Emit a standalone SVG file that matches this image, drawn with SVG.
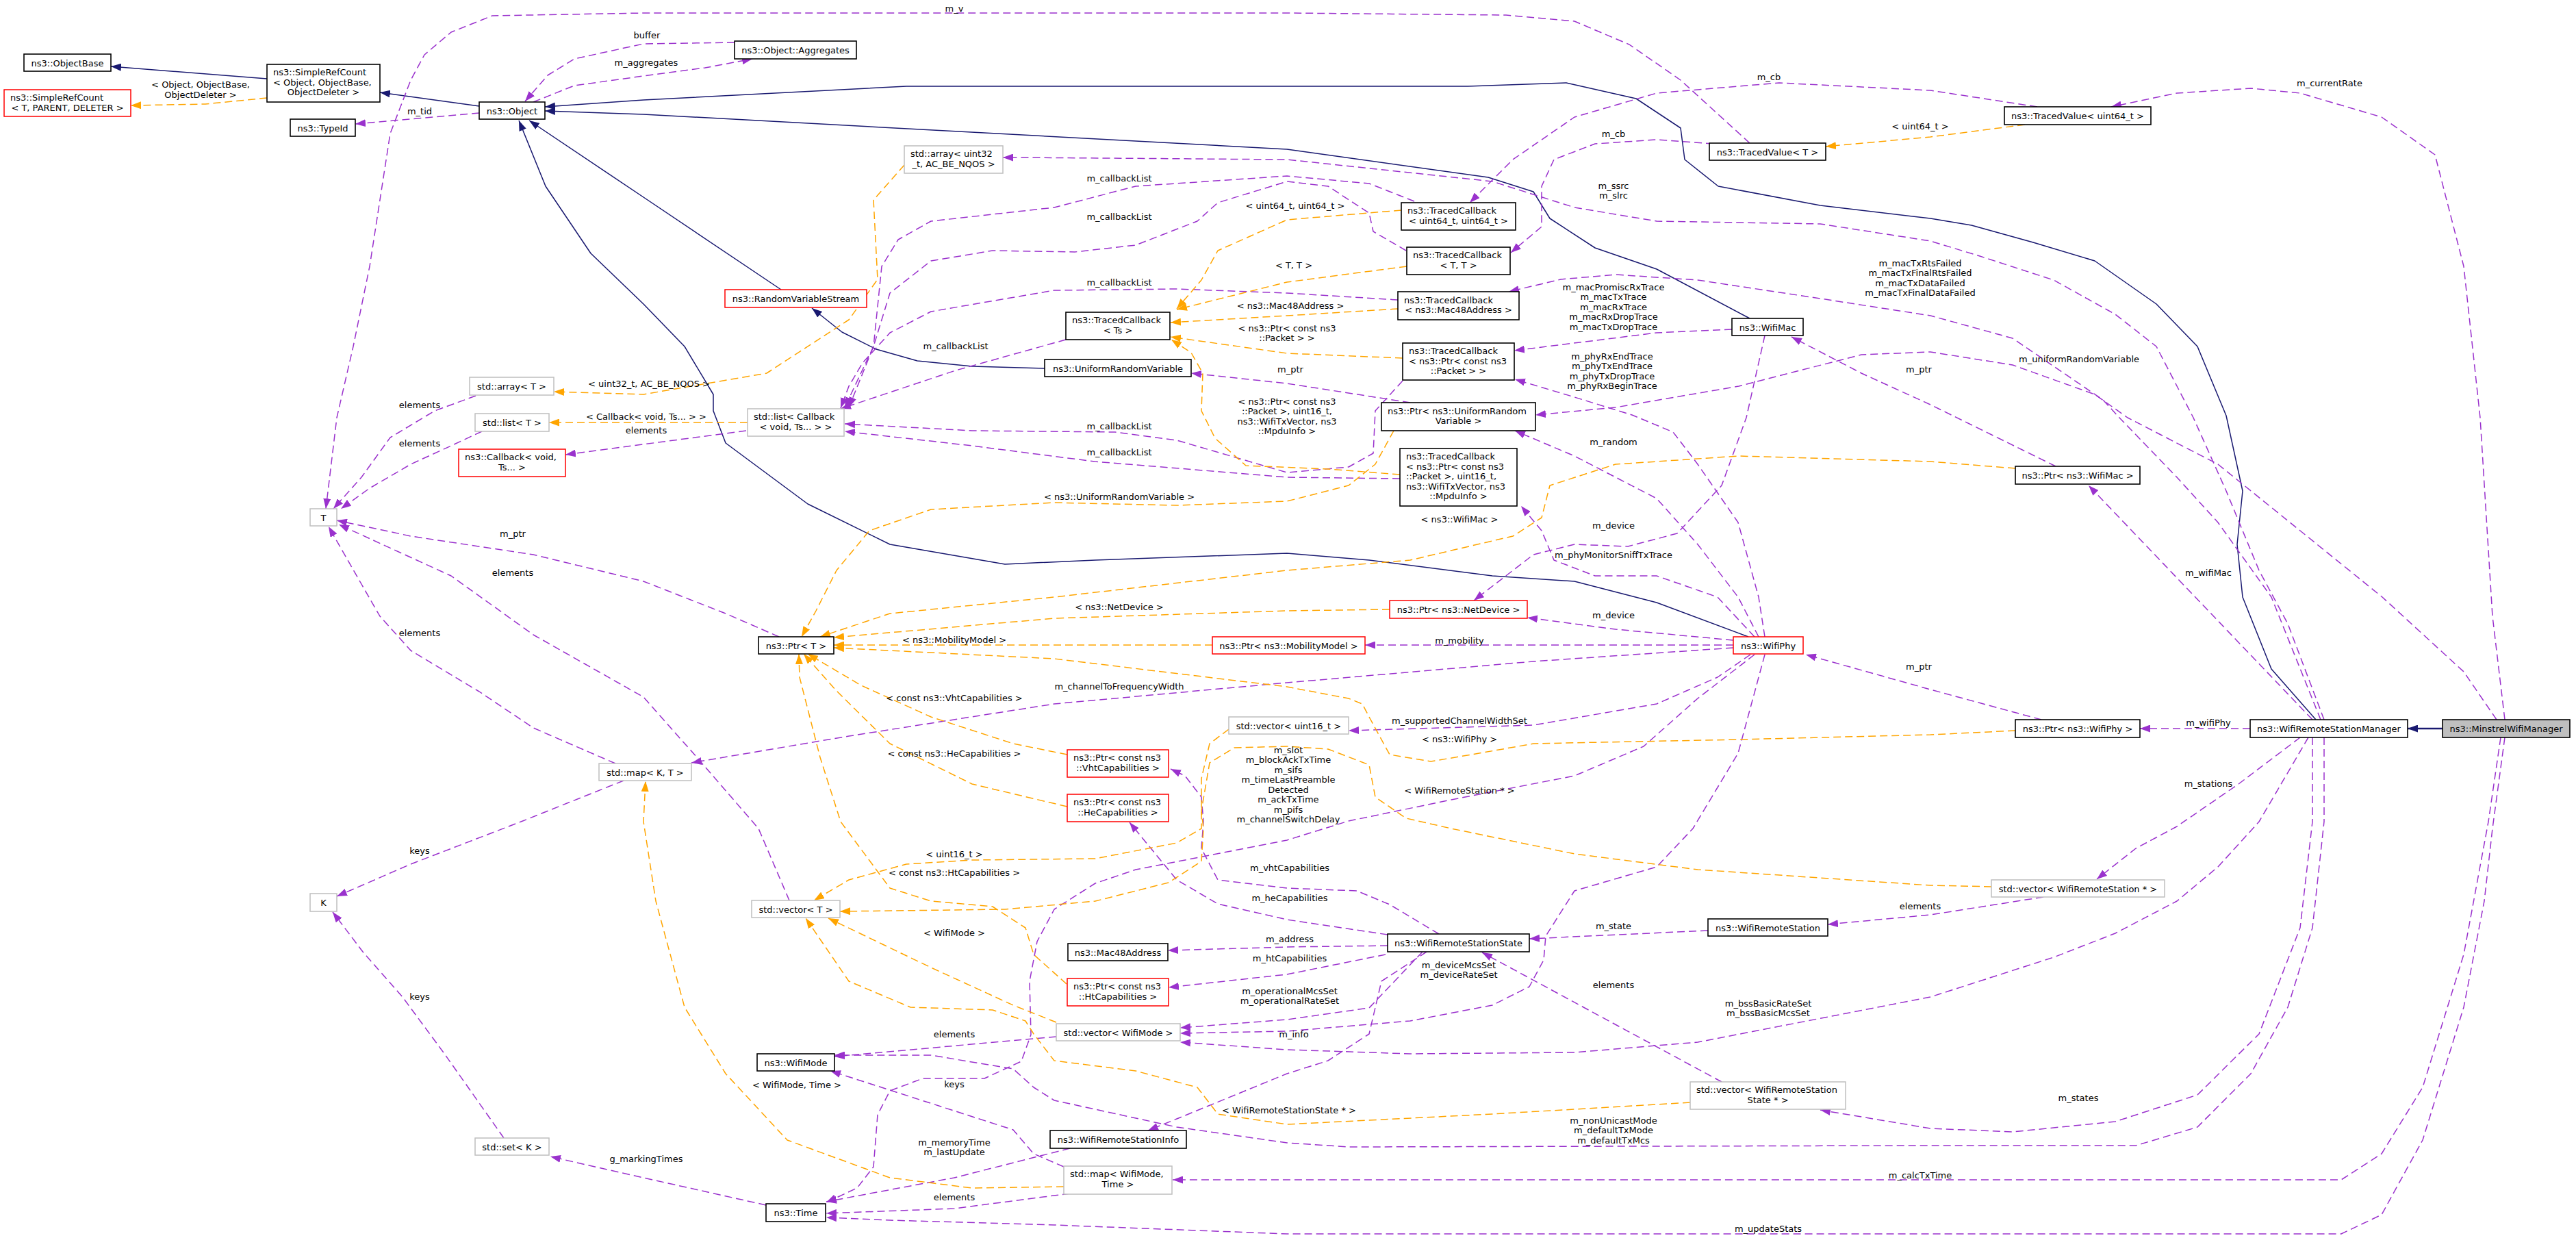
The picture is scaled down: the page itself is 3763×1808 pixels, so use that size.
<svg xmlns="http://www.w3.org/2000/svg" width="3763" height="1808" viewBox="0 0 3763 1808">
<style>
text{font-family:"DejaVu Sans","Liberation Sans",sans-serif;font-size:13px;fill:#000}
.c{text-anchor:middle}
.l{text-anchor:start}
.nb rect{fill:#fff;stroke:#000;stroke-width:1.6}
.ng rect{fill:#fff;stroke:#bfbfbf;stroke-width:1.5}
.nr rect{fill:#fff;stroke:#ff0000;stroke-width:1.5}
.nf rect{fill:#bfbfbf;stroke:#000;stroke-width:1.6}
.u{fill:none;stroke:#9a32cd;stroke-width:1.5;stroke-dasharray:11,6;stroke-linejoin:round;marker-end:url(#ap)}
.t{fill:none;stroke:#ffa500;stroke-width:1.5;stroke-dasharray:11,6;stroke-linejoin:round;marker-end:url(#ao)}
.i{fill:none;stroke:#191970;stroke-width:1.5;stroke-linejoin:round;marker-end:url(#an)}
</style>
<defs>
<marker id="ap" viewBox="0 0 15 11" refX="15" refY="5.5" markerWidth="15" markerHeight="11" markerUnits="userSpaceOnUse" orient="auto"><path d="M0,0L15,5.5L0,11z" fill="#9a32cd"/></marker>
<marker id="ao" viewBox="0 0 15 11" refX="15" refY="5.5" markerWidth="15" markerHeight="11" markerUnits="userSpaceOnUse" orient="auto"><path d="M0,0L15,5.5L0,11z" fill="#ffa500"/></marker>
<marker id="an" viewBox="0 0 15 11" refX="15" refY="5.5" markerWidth="15" markerHeight="11" markerUnits="userSpaceOnUse" orient="auto"><path d="M0,0L15,5.5L0,11z" fill="#191970"/></marker>
</defs>
<rect width="3763" height="1808" fill="#fff"/>
<g id="connectors">
<path class="i" d="M390,115L162,97"/>
<path class="i" d="M700,155L555,135"/>
<path class="i" d="M1141,423L940,288L773,176"/>
<path class="i" d="M1526,538L1420,535L1340,527L1280,510L1230,485L1186,450"/>
<path class="i" d="M2556,465L2420,393L2330,362L2264,319L2240,280L2174,259L1880,218L940,167L796,162"/>
<path class="i" d="M3383,1051L3318,977L3276,872L3268,795L3276,717L3252,607L3210,506L3150,444L3060,381L2970,354L2880,329L2820,319L2659,300L2510,272L2461,233L2455,187L2390,144L2288,121L2144,126L1324,126L940,146L796,156"/>
<path class="i" d="M2554,930L2420,880L2300,849L2180,841L2000,818L1880,808L1600,818L1468,824L1300,795L1180,736L1060,647L1042,600L1042,576L1000,506L940,444L863,370L797,272L758,176"/>
<path class="i" style="stroke-width:2.5" d="M3568,1064L3517,1064"/>
<path class="u" d="M2556,209L2455,117L2380,65L2300,31L2200,22L1880,19L940,19L719,23L659,47L620,80L600,117L570,195L540,389L516,506L492,610L476,743"/>
<path class="u" d="M1073,62L940,64L839,86L800,110L767,148"/>
<path class="u" d="M779,149L839,125L940,111L1030,99L1099,86"/>
<path class="u" d="M700,165L519,181"/>
<path class="u" d="M695,578L635,600L570,639L528,697L487,743"/>
<path class="u" d="M704,630L659,651L600,678L540,713L498,743"/>
<path class="u" d="M1138,930L1060,896L940,849L779,810L600,783L492,760"/>
<path class="u" d="M1153,1315L1108,1210L1018,1106L940,1018L779,927L659,841L495,766"/>
<path class="u" d="M899,1115L779,1063L700,1010L600,950L555,900L528,853L480,769"/>
<path class="u" d="M911,1140L761,1200L600,1262L492,1309"/>
<path class="u" d="M736,1662L650,1540L588,1456L530,1390L486,1332"/>
<path class="u" d="M1119,1760L940,1720L869,1704L804,1689"/>
<path class="u" d="M2066,294L2000,268L1880,257L1659,272L1540,303L1360,323L1312,350L1288,389L1276,506L1234,595"/>
<path class="u" d="M2054,366L2006,338L2000,311L1940,272L1880,265L1779,296L1749,323L1659,358L1570,368L1450,366L1360,381L1300,428L1276,506L1240,595"/>
<path class="u" d="M2042,438L1880,428L1719,422L1540,424L1360,455L1300,486L1260,530L1240,564L1228,596"/>
<path class="u" d="M1557,496L1396,541L1228,597"/>
<path class="u" d="M2049,556L2009,600L2006,662L1970,682L1880,690L1719,643L1629,631L1420,629L1234,619"/>
<path class="u" d="M2045,699L1880,697L1599,674L1420,651L1234,630"/>
<path class="u" d="M3395,1051L3342,911L3300,833L3252,717L3204,610L3150,506L3090,459L3000,409L2892,374L2820,352L2659,327L2420,323L2300,303L2180,265L1880,233L1480,230L1465,230"/>
<path class="u" d="M3390,1051L3318,872L3240,763L3180,697L3096,610L3072,584L2940,494L2820,461L2659,436L2480,409L2360,401L2280,408L2204,426"/>
<path class="u" d="M3647,1051L3599,981L3480,872L3360,775L3240,678L3108,610L3060,576L2940,533L2820,514L2719,518L2540,564L2360,595L2243,606"/>
<path class="u" d="M3659,1051L3641,900L3623,610L3599,389L3557,226L3479,171L3360,136L3288,129L3180,136L3084,156"/>
<path class="u" d="M2976,156L2820,132L2599,121L2420,136L2300,171L2210,233L2147,296"/>
<path class="u" d="M2503,210L2420,204L2330,210L2270,233L2252,272L2252,331L2207,369"/>
<path class="u" d="M2530,481L2420,486L2212,512"/>
<path class="u" d="M2578,490L2551,610L2515,709L2450,779L2378,798L2300,795L2240,810L2153,877"/>
<path class="u" d="M3003,681L2820,591L2719,545L2617,492"/>
<path class="u" d="M3378,1051L3051,709"/>
<path class="u" d="M3287,1064L3126,1064"/>
<path class="u" d="M2982,1051L2820,1007L2638,956"/>
<path class="u" d="M3360,1077L3270,1145L3180,1207L3120,1239L3063,1284"/>
<path class="u" d="M3378,1077L3378,1200L3360,1355L3300,1510L3210,1599L3090,1638L2940,1653L2820,1648L2659,1621"/>
<path class="u" d="M3395,1077L3395,1200L3378,1355L3342,1471L3288,1568L3210,1646L3120,1673L2820,1673L1970,1675L1880,1669L1719,1646L1540,1607L1510,1588L1480,1561L1360,1541L1219,1541"/>
<path class="u" d="M3372,1077L3300,1200L3240,1266L3180,1316L3090,1363L3000,1398L2820,1456L2480,1522L2300,1537L2060,1539L1880,1533L1724,1522"/>
<path class="u" d="M3653,1077L3635,1200L3599,1394L3539,1588L3479,1685L3420,1723L2820,1723L1713,1723"/>
<path class="u" d="M3659,1077L3641,1210L3629,1316L3599,1471L3539,1665L3479,1774L3420,1802L1880,1802L1540,1789L1300,1782L1207,1778"/>
<path class="u" d="M2578,956L2539,1100L2473,1210L2420,1266L2300,1301L2258,1367L2255,1402L2234,1441L2180,1468L2060,1491L1880,1506L1724,1509"/>
<path class="u" d="M2563,956L2480,1020L2401,1090L2300,1133L2120,1168L1970,1199L1880,1227L1659,1270L1600,1290L1540,1328L1515,1375L1504,1433L1506,1511L1492,1550L1438,1575L1348,1575L1300,1593L1282,1628L1276,1704L1252,1735L1207,1756"/>
<path class="u" d="M2557,956L2509,989L2420,1028L2240,1059L1970,1067"/>
<path class="u" d="M2563,930L2509,872L2420,841L2330,841L2270,818L2252,775L2222,739"/>
<path class="u" d="M2569,930L2539,872L2480,795L2420,728L2300,666L2213,629"/>
<path class="u" d="M2578,930L2569,872L2539,763L2480,678L2444,631L2384,606L2300,580L2213,554"/>
<path class="u" d="M2532,935L2360,919L2231,902"/>
<path class="u" d="M2532,942L1994,942"/>
<path class="u" d="M2532,946L2240,966L1880,997L1540,1028L1240,1075L1010,1114"/>
<path class="u" d="M2060,588L1880,560L1740,545"/>
<path class="u" d="M2027,1381L1880,1383L1706,1388"/>
<path class="u" d="M2024,1394L1880,1423L1707,1442"/>
<path class="u" d="M2102,1364L2030,1321L1982,1301L1880,1297L1779,1285L1755,1239L1758,1200L1755,1164L1731,1133L1710,1123"/>
<path class="u" d="M2027,1365L1880,1343L1779,1320L1719,1285L1650,1201"/>
<path class="u" d="M2078,1390L2000,1472L1880,1489L1724,1501"/>
<path class="u" d="M2084,1390L2018,1433L2000,1510L1940,1549L1880,1568L1719,1634L1677,1651"/>
<path class="u" d="M2495,1359L2234,1371"/>
<path class="u" d="M2515,1580L2165,1391"/>
<path class="u" d="M2985,1310L2820,1336L2670,1350"/>
<path class="u" d="M1543,1514L1219,1543"/>
<path class="u" d="M1554,1704L1510,1685L1480,1650L1300,1592L1213,1564"/>
<path class="u" d="M1563,1743L1394,1765L1207,1772"/>
<path class="u" d="M1563,1677L1394,1720L1207,1755"/>
<path class="u" d="M1090,629L826,664"/>
<path class="t" d="M390,143L300,152L191,154"/>
<path class="t" d="M1321,241L1276,292L1282,408L1240,467L1120,545L940,576L809,572"/>
<path class="t" d="M1092,617L802,617"/>
<path class="t" d="M2047,307L1880,321L1779,366L1755,409L1719,451"/>
<path class="t" d="M2055,389L1880,412L1719,452"/>
<path class="t" d="M2042,451L1880,461L1710,471"/>
<path class="t" d="M2049,523L1880,516L1710,492"/>
<path class="t" d="M2045,693L1940,685L1820,680L1775,640L1755,600L1757,545L1740,515L1711,496"/>
<path class="t" d="M2036,629L2009,678L1970,709L1880,732L1719,738L1540,734L1360,744L1270,775L1222,833L1192,892L1171,930"/>
<path class="t" d="M2944,684L2820,674L2540,666L2360,678L2264,709L2252,756L2210,783L2060,818L1880,833L1540,872L1300,896L1198,930"/>
<path class="t" d="M2030,890L1880,892L1540,903L1218,931"/>
<path class="t" d="M1771,942L1218,942"/>
<path class="t" d="M2944,1067L2820,1073L2540,1080L2240,1086L2150,1102L2090,1112L2030,1102L2000,1047L1990,1028L1970,1020L1880,1003L1540,962L1218,946"/>
<path class="t" d="M1559,1102L1480,1086L1360,1047L1258,1001L1180,955"/>
<path class="t" d="M1559,1178L1420,1145L1300,1086L1222,1009L1174,955"/>
<path class="t" d="M1558,1437L1510,1394L1498,1355L1450,1324L1360,1316L1300,1297L1228,1200L1198,1106L1168,989L1167,955"/>
<path class="t" d="M1795,1065L1767,1086L1755,1137L1755,1210L1719,1231L1600,1254L1420,1256L1324,1262L1240,1285L1189,1315"/>
<path class="t" d="M2909,1295L2820,1293L2480,1270L2300,1247L2120,1210L2054,1195L2009,1164L2000,1117L1940,1094L1880,1090L1803,1092L1767,1114L1755,1184L1758,1210L1755,1258L1707,1289L1600,1316L1468,1328L1227,1331"/>
<path class="t" d="M1543,1493L1480,1468L1360,1413L1210,1341"/>
<path class="t" d="M2469,1610L2180,1627L1880,1642L1779,1627L1749,1588L1659,1564L1540,1549L1510,1510L1498,1491L1450,1475L1330,1471L1240,1433L1177,1341"/>
<path class="t" d="M1554,1733L1420,1735L1300,1720L1150,1665L1060,1568L1000,1471L958,1316L940,1200L943,1141"/>
<path class="t" d="M2958,182L2820,200L2667,214"/>
</g>
<g id="edge-labels">
<text class="c" x="1394" y="16.5">m_v</text>
<text class="c" x="945" y="55.5">buffer</text>
<text class="c" x="944" y="95.5">m_aggregates</text>
<text class="c" x="613" y="166.5">m_tid</text>
<text class="c" x="293" y="127.5">&lt; Object, ObjectBase,</text>
<text class="c" x="293" y="142.5">ObjectDeleter &gt;</text>
<text class="c" x="613" y="595.5">elements</text>
<text class="c" x="613" y="651.5">elements</text>
<text class="c" x="749" y="783.5">m_ptr</text>
<text class="c" x="749" y="840.5">elements</text>
<text class="c" x="613" y="928.5">elements</text>
<text class="c" x="613" y="1246.5">keys</text>
<text class="c" x="613" y="1459.5">keys</text>
<text class="c" x="944" y="1696.5">g_markingTimes</text>
<text class="c" x="948" y="564.5">&lt; uint32_t, AC_BE_NQOS &gt;</text>
<text class="c" x="944" y="612.5">&lt; Callback&lt; void, Ts... &gt; &gt;</text>
<text class="c" x="944" y="632.5">elements</text>
<text class="c" x="1635" y="264.5">m_callbackList</text>
<text class="c" x="1635" y="320.5">m_callbackList</text>
<text class="c" x="1635" y="416.5">m_callbackList</text>
<text class="c" x="1396" y="509.5">m_callbackList</text>
<text class="c" x="1635" y="626.5">m_callbackList</text>
<text class="c" x="1635" y="664.5">m_callbackList</text>
<text class="c" x="1892" y="304.5">&lt; uint64_t, uint64_t &gt;</text>
<text class="c" x="1890" y="391.5">&lt; T, T &gt;</text>
<text class="c" x="1885" y="450.5">&lt; ns3::Mac48Address &gt;</text>
<text class="c" x="1880" y="483.5">&lt; ns3::Ptr&lt; const ns3</text>
<text class="c" x="1880" y="497.5">::Packet &gt; &gt;</text>
<text class="c" x="1880" y="590.5">&lt; ns3::Ptr&lt; const ns3</text>
<text class="c" x="1880" y="605">::Packet &gt;, uint16_t,</text>
<text class="c" x="1880" y="619.5">ns3::WifiTxVector, ns3</text>
<text class="c" x="1880" y="634">::MpduInfo &gt;</text>
<text class="c" x="1885" y="543.5">m_ptr</text>
<text class="c" x="2584" y="116.5">m_cb</text>
<text class="c" x="2357" y="199.5">m_cb</text>
<text class="c" x="2805" y="188.5">&lt; uint64_t &gt;</text>
<text class="c" x="2357" y="275.5">m_ssrc</text>
<text class="c" x="2357" y="289.5">m_slrc</text>
<text class="c" x="2805" y="388.5">m_macTxRtsFailed</text>
<text class="c" x="2805" y="403">m_macTxFinalRtsFailed</text>
<text class="c" x="2805" y="417.5">m_macTxDataFailed</text>
<text class="c" x="2805" y="432">m_macTxFinalDataFailed</text>
<text class="c" x="2357" y="423.5">m_macPromiscRxTrace</text>
<text class="c" x="2357" y="438">m_macTxTrace</text>
<text class="c" x="2357" y="452.5">m_macRxTrace</text>
<text class="c" x="2357" y="467">m_macRxDropTrace</text>
<text class="c" x="2357" y="481.5">m_macTxDropTrace</text>
<text class="c" x="2355" y="524.5">m_phyRxEndTrace</text>
<text class="c" x="2355" y="539">m_phyTxEndTrace</text>
<text class="c" x="2355" y="553.5">m_phyTxDropTrace</text>
<text class="c" x="2355" y="568">m_phyRxBeginTrace</text>
<text class="c" x="2803" y="543.5">m_ptr</text>
<text class="c" x="3037" y="528.5">m_uniformRandomVariable</text>
<text class="c" x="3403" y="125.5">m_currentRate</text>
<text class="c" x="2357" y="649.5">m_random</text>
<text class="c" x="2132" y="762.5">&lt; ns3::WifiMac &gt;</text>
<text class="c" x="2357" y="771.5">m_device</text>
<text class="c" x="2357" y="814.5">m_phyMonitorSniffTxTrace</text>
<text class="c" x="3226" y="840.5">m_wifiMac</text>
<text class="c" x="1635" y="729.5">&lt; ns3::UniformRandomVariable &gt;</text>
<text class="c" x="1635" y="890.5">&lt; ns3::NetDevice &gt;</text>
<text class="c" x="2357" y="902.5">m_device</text>
<text class="c" x="1394" y="938.5">&lt; ns3::MobilityModel &gt;</text>
<text class="c" x="2132" y="939.5">m_mobility</text>
<text class="c" x="2803" y="977.5">m_ptr</text>
<text class="c" x="1635" y="1006.5">m_channelToFrequencyWidth</text>
<text class="c" x="1394" y="1023.5">&lt; const ns3::VhtCapabilities &gt;</text>
<text class="c" x="2132" y="1056.5">m_supportedChannelWidthSet</text>
<text class="c" x="3226" y="1059.5">m_wifiPhy</text>
<text class="c" x="2132" y="1083.5">&lt; ns3::WifiPhy &gt;</text>
<text class="c" x="1394" y="1104.5">&lt; const ns3::HeCapabilities &gt;</text>
<text class="c" x="3226" y="1148.5">m_stations</text>
<text class="c" x="2132" y="1158.5">&lt; WifiRemoteStation * &gt;</text>
<text class="c" x="1882" y="1099.5">m_slot</text>
<text class="c" x="1882" y="1114">m_blockAckTxTime</text>
<text class="c" x="1882" y="1128.5">m_sifs</text>
<text class="c" x="1882" y="1143">m_timeLastPreamble</text>
<text class="c" x="1882" y="1157.5">Detected</text>
<text class="c" x="1882" y="1172">m_ackTxTime</text>
<text class="c" x="1882" y="1186.5">m_pifs</text>
<text class="c" x="1882" y="1201">m_channelSwitchDelay</text>
<text class="c" x="1394" y="1251.5">&lt; uint16_t &gt;</text>
<text class="c" x="1884" y="1271.5">m_vhtCapabilities</text>
<text class="c" x="1394" y="1278.5">&lt; const ns3::HtCapabilities &gt;</text>
<text class="c" x="1884" y="1315.5">m_heCapabilities</text>
<text class="c" x="2805" y="1327.5">elements</text>
<text class="c" x="2357" y="1356.5">m_state</text>
<text class="c" x="1394" y="1366.5">&lt; WifiMode &gt;</text>
<text class="c" x="1884" y="1375.5">m_address</text>
<text class="c" x="1884" y="1403.5">m_htCapabilities</text>
<text class="c" x="2131" y="1413.5">m_deviceMcsSet</text>
<text class="c" x="2131" y="1428">m_deviceRateSet</text>
<text class="c" x="2357" y="1442.5">elements</text>
<text class="c" x="1884" y="1451.5">m_operationalMcsSet</text>
<text class="c" x="1884" y="1466">m_operationalRateSet</text>
<text class="c" x="2583" y="1469.5">m_bssBasicRateSet</text>
<text class="c" x="2583" y="1484">m_bssBasicMcsSet</text>
<text class="c" x="1394" y="1514.5">elements</text>
<text class="c" x="1890" y="1514.5">m_info</text>
<text class="c" x="1394" y="1587.5">keys</text>
<text class="c" x="1164" y="1588.5">&lt; WifiMode, Time &gt;</text>
<text class="c" x="3036" y="1607.5">m_states</text>
<text class="c" x="1883" y="1625.5">&lt; WifiRemoteStationState * &gt;</text>
<text class="c" x="2357" y="1640.5">m_nonUnicastMode</text>
<text class="c" x="2357" y="1655">m_defaultTxMode</text>
<text class="c" x="2357" y="1669.5">m_defaultTxMcs</text>
<text class="c" x="1394" y="1672.5">m_memoryTime</text>
<text class="c" x="1394" y="1687">m_lastUpdate</text>
<text class="c" x="2805" y="1720.5">m_calcTxTime</text>
<text class="c" x="1394" y="1752.5">elements</text>
<text class="c" x="2583" y="1798.5">m_updateStats</text>
</g>
<g id="n_objectbase" class="nb"><rect x="35" y="79" width="127" height="25"/><text class="c" x="98.5" y="96.5">ns3::ObjectBase</text></g>
<g id="n_srct" class="nr"><rect x="6" y="131" width="185" height="39"/><text class="l" x="15" y="147">ns3::SimpleRefCount</text><text class="c" x="98.5" y="161.5">&lt; T, PARENT, DELETER &gt;</text></g>
<g id="n_srcobj" class="nb"><rect x="390" y="94" width="165" height="55"/><text class="l" x="399" y="110">ns3::SimpleRefCount</text><text class="l" x="399" y="124.5">&lt; Object, ObjectBase,</text><text class="c" x="472.5" y="139">ObjectDeleter &gt;</text></g>
<g id="n_typeid" class="nb"><rect x="424" y="174" width="95" height="25"/><text class="c" x="471.5" y="191.5">ns3::TypeId</text></g>
<g id="n_object" class="nb"><rect x="700" y="149" width="96" height="25"/><text class="c" x="748" y="166.5">ns3::Object</text></g>
<g id="n_aggr" class="nb"><rect x="1073" y="60" width="178" height="26"/><text class="c" x="1162" y="77.5">ns3::Object::Aggregates</text></g>
<g id="n_arrayu32" class="ng"><rect x="1321" y="213" width="144" height="40"/><text class="l" x="1330" y="229">std::array&lt; uint32</text><text class="c" x="1393" y="243.5">_t, AC_BE_NQOS &gt;</text></g>
<g id="n_rvs" class="nr"><rect x="1059" y="423" width="207" height="26"/><text class="c" x="1162.5" y="440.5">ns3::RandomVariableStream</text></g>
<g id="n_tcts" class="nb"><rect x="1557" y="456" width="152" height="40"/><text class="l" x="1566" y="472">ns3::TracedCallback</text><text class="c" x="1633" y="486.5">&lt; Ts &gt;</text></g>
<g id="n_urv" class="nb"><rect x="1526" y="525" width="214" height="25"/><text class="c" x="1633" y="542.5">ns3::UniformRandomVariable</text></g>
<g id="n_listcb" class="ng"><rect x="1092" y="597" width="141" height="40"/><text class="l" x="1101" y="613">std::list&lt; Callback</text><text class="c" x="1162.5" y="627.5">&lt; void, Ts... &gt; &gt;</text></g>
<g id="n_tvt" class="nb"><rect x="2497" y="209" width="170" height="25"/><text class="c" x="2582" y="226.5">ns3::TracedValue&lt; T &gt;</text></g>
<g id="n_tcu64" class="nb"><rect x="2047" y="296" width="167" height="40"/><text class="l" x="2056" y="312">ns3::TracedCallback</text><text class="c" x="2130.5" y="326.5">&lt; uint64_t, uint64_t &gt;</text></g>
<g id="n_tctt" class="nb"><rect x="2055" y="361" width="151" height="40"/><text class="l" x="2064" y="377">ns3::TracedCallback</text><text class="c" x="2130.5" y="391.5">&lt; T, T &gt;</text></g>
<g id="n_tcmac" class="nb"><rect x="2042" y="426" width="177" height="41"/><text class="l" x="2051" y="442.5">ns3::TracedCallback</text><text class="c" x="2130.5" y="457">&lt; ns3::Mac48Address &gt;</text></g>
<g id="n_wifimac" class="nb"><rect x="2530" y="465" width="104" height="25"/><text class="c" x="2582" y="482.5">ns3::WifiMac</text></g>
<g id="n_tcpkt" class="nb"><rect x="2049" y="501" width="163" height="54"/><text class="l" x="2058" y="517">ns3::TracedCallback</text><text class="l" x="2058" y="531.5">&lt; ns3::Ptr&lt; const ns3</text><text class="c" x="2130.5" y="546">::Packet &gt; &gt;</text></g>
<g id="n_ptrurv" class="nb"><rect x="2018" y="588" width="225" height="41"/><text class="l" x="2027" y="604.5">ns3::Ptr&lt; ns3::UniformRandom</text><text class="c" x="2130.5" y="619">Variable &gt;</text></g>
<g id="n_tvu64" class="nb"><rect x="2928" y="156" width="214" height="26"/><text class="c" x="3035" y="173.5">ns3::TracedValue&lt; uint64_t &gt;</text></g>
<g id="n_arrayt" class="ng"><rect x="686" y="551" width="123" height="26"/><text class="c" x="747.5" y="568.5">std::array&lt; T &gt;</text></g>
<g id="n_listt" class="ng"><rect x="694" y="604" width="108" height="26"/><text class="c" x="748" y="621.5">std::list&lt; T &gt;</text></g>
<g id="n_cb" class="nr"><rect x="670" y="656" width="156" height="40"/><text class="l" x="679" y="672">ns3::Callback&lt; void,</text><text class="c" x="748" y="686.5">Ts... &gt;</text></g>
<g id="n_t" class="ng"><rect x="453" y="743" width="39" height="25"/><text class="c" x="472.5" y="760.5">T</text></g>
<g id="n_mapkt" class="ng"><rect x="875" y="1115" width="135" height="25"/><text class="c" x="942.5" y="1132.5">std::map&lt; K, T &gt;</text></g>
<g id="n_ptrt" class="nb"><rect x="1108" y="930" width="110" height="25"/><text class="c" x="1163" y="947.5">ns3::Ptr&lt; T &gt;</text></g>
<g id="n_ptrmob" class="nr"><rect x="1771" y="930" width="223" height="25"/><text class="c" x="1882.5" y="947.5">ns3::Ptr&lt; ns3::MobilityModel &gt;</text></g>
<g id="n_ptrvht" class="nr"><rect x="1559" y="1095" width="148" height="40"/><text class="l" x="1568" y="1111">ns3::Ptr&lt; const ns3</text><text class="c" x="1633" y="1125.5">::VhtCapabilities &gt;</text></g>
<g id="n_ptrhe" class="nr"><rect x="1559" y="1160" width="148" height="40"/><text class="l" x="1568" y="1176">ns3::Ptr&lt; const ns3</text><text class="c" x="1633" y="1190.5">::HeCapabilities &gt;</text></g>
<g id="n_vecu16" class="ng"><rect x="1795" y="1047" width="175" height="25"/><text class="c" x="1882.5" y="1064.5">std::vector&lt; uint16_t &gt;</text></g>
<g id="n_tcbig" class="nb"><rect x="2045" y="655" width="171" height="84"/><text class="l" x="2054" y="671">ns3::TracedCallback</text><text class="l" x="2054" y="685.5">&lt; ns3::Ptr&lt; const ns3</text><text class="l" x="2054" y="700">::Packet &gt;, uint16_t,</text><text class="l" x="2054" y="714.5"> ns3::WifiTxVector, ns3</text><text class="c" x="2130.5" y="729">::MpduInfo &gt;</text></g>
<g id="n_ptrnd" class="nr"><rect x="2030" y="877" width="201" height="26"/><text class="c" x="2130.5" y="894.5">ns3::Ptr&lt; ns3::NetDevice &gt;</text></g>
<g id="n_wifiphy" class="nr"><rect x="2532" y="930" width="102" height="25"/><text class="c" x="2583" y="947.5">ns3::WifiPhy</text></g>
<g id="n_ptrmac" class="nb"><rect x="2944" y="681" width="182" height="26"/><text class="c" x="3035" y="698.5">ns3::Ptr&lt; ns3::WifiMac &gt;</text></g>
<g id="n_ptrphy" class="nb"><rect x="2944" y="1051" width="182" height="26"/><text class="c" x="3035" y="1068.5">ns3::Ptr&lt; ns3::WifiPhy &gt;</text></g>
<g id="n_wrsm" class="nb"><rect x="3287" y="1051" width="230" height="26"/><text class="c" x="3402" y="1068.5">ns3::WifiRemoteStationManager</text></g>
<g id="n_minstrel" class="nf"><rect x="3568" y="1051" width="186" height="26"/><text class="c" x="3661" y="1068.5">ns3::MinstrelWifiManager</text></g>
<g id="n_k" class="ng"><rect x="453" y="1305" width="39" height="26"/><text class="c" x="472.5" y="1322.5">K</text></g>
<g id="n_setk" class="ng"><rect x="694" y="1662" width="108" height="25"/><text class="c" x="748" y="1679.5">std::set&lt; K &gt;</text></g>
<g id="n_vect" class="ng"><rect x="1098" y="1315" width="129" height="25"/><text class="c" x="1162.5" y="1332.5">std::vector&lt; T &gt;</text></g>
<g id="n_mac48" class="nb"><rect x="1560" y="1378" width="146" height="25"/><text class="c" x="1633" y="1395.5">ns3::Mac48Address</text></g>
<g id="n_ptrht" class="nr"><rect x="1559" y="1429" width="148" height="40"/><text class="l" x="1568" y="1445">ns3::Ptr&lt; const ns3</text><text class="c" x="1633" y="1459.5">::HtCapabilities &gt;</text></g>
<g id="n_vecmode" class="ng"><rect x="1543" y="1495" width="181" height="25"/><text class="c" x="1633.5" y="1512.5">std::vector&lt; WifiMode &gt;</text></g>
<g id="n_wifimode" class="nb"><rect x="1106" y="1539" width="113" height="25"/><text class="c" x="1162.5" y="1556.5">ns3::WifiMode</text></g>
<g id="n_wrsinfo" class="nb"><rect x="1534" y="1651" width="199" height="26"/><text class="c" x="1633.5" y="1668.5">ns3::WifiRemoteStationInfo</text></g>
<g id="n_mapmode" class="ng"><rect x="1554" y="1703" width="158" height="41"/><text class="l" x="1563" y="1719">std::map&lt; WifiMode,</text><text class="c" x="1633" y="1733.5">Time &gt;</text></g>
<g id="n_time" class="nb"><rect x="1119" y="1758" width="87" height="26"/><text class="c" x="1162.5" y="1775.5">ns3::Time</text></g>
<g id="n_wrss" class="nb"><rect x="2027" y="1364" width="207" height="26"/><text class="c" x="2130.5" y="1381.5">ns3::WifiRemoteStationState</text></g>
<g id="n_wrs" class="nb"><rect x="2495" y="1342" width="175" height="25"/><text class="c" x="2582.5" y="1359.5">ns3::WifiRemoteStation</text></g>
<g id="n_vecwrss" class="ng"><rect x="2469" y="1580" width="227" height="40"/><text class="l" x="2478" y="1596">std::vector&lt; WifiRemoteStation</text><text class="c" x="2582.5" y="1610.5">State * &gt;</text></g>
<g id="n_vecwrs" class="ng"><rect x="2909" y="1285" width="253" height="25"/><text class="c" x="3035.5" y="1302.5">std::vector&lt; WifiRemoteStation * &gt;</text></g>
</svg>
